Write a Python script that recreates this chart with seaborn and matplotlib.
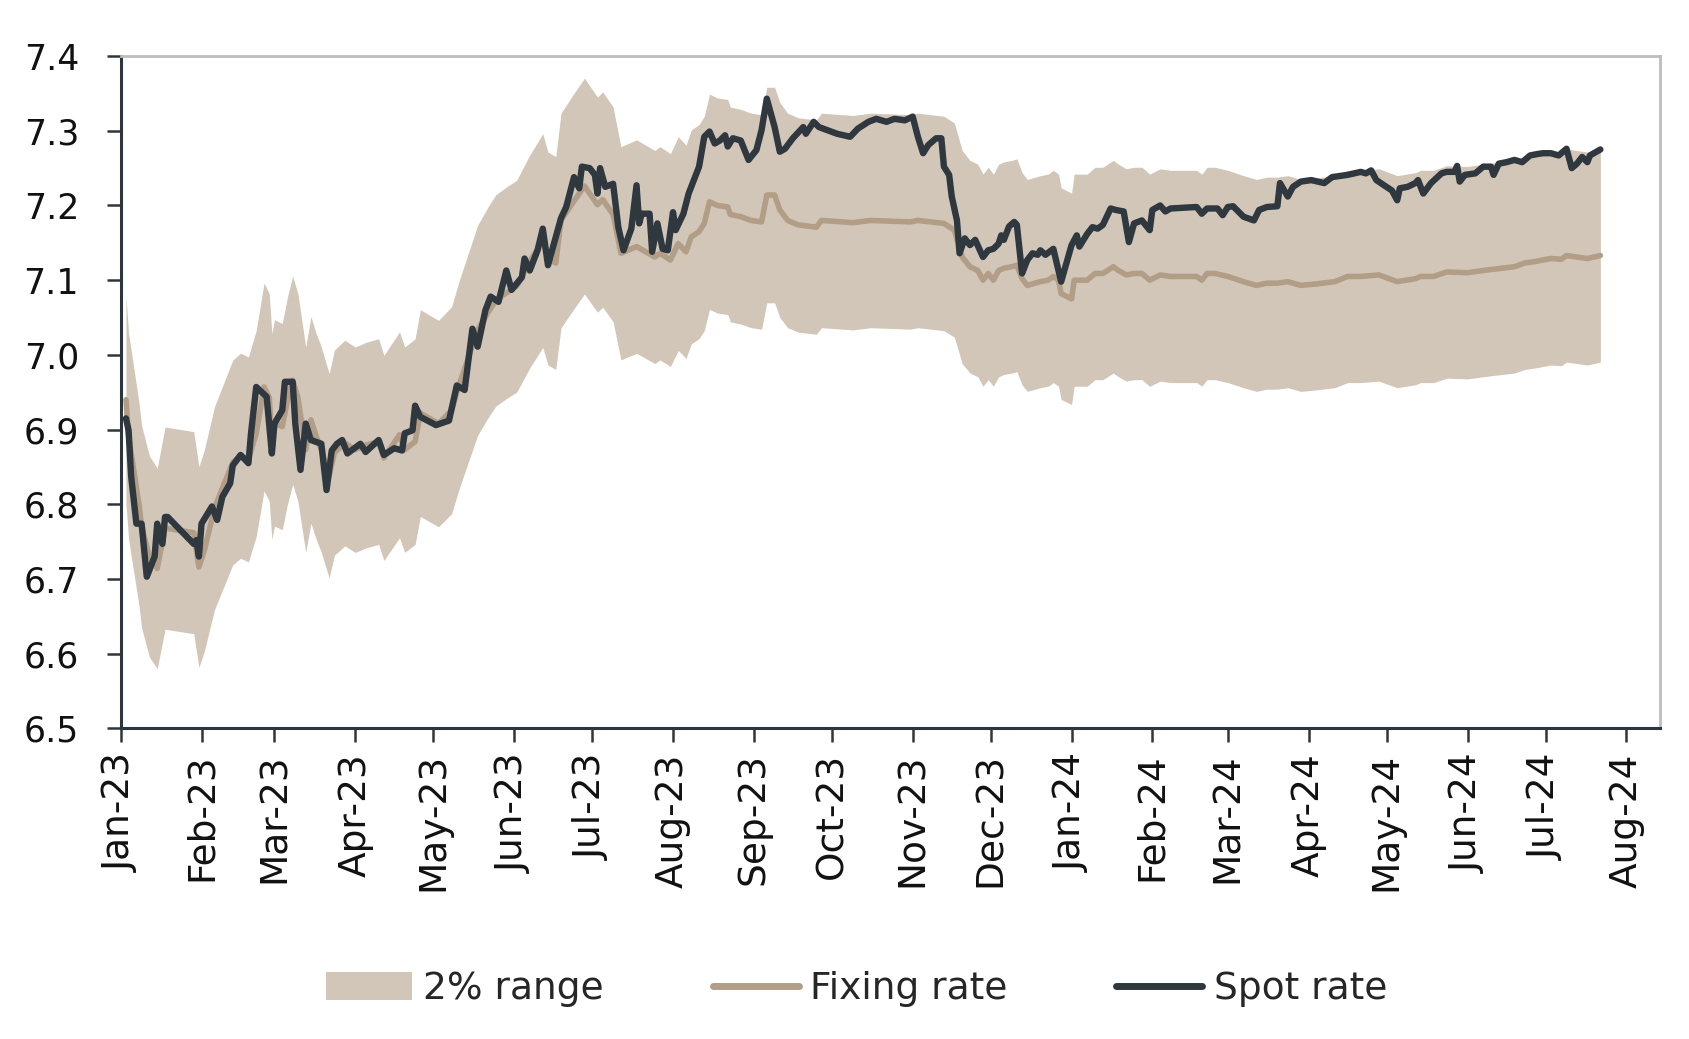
"""USD/CNY spot rate vs PBOC fixing with the 2% trading band."""

import matplotlib

matplotlib.use("Agg")
import matplotlib.dates as mdates
import matplotlib.pyplot as plt
import pandas as pd
import seaborn as sns
from matplotlib.lines import Line2D
from matplotlib.patches import Patch

# Days counted from 1 Jan 2023
spot_day = [
    2, 3, 4, 6, 8, 10, 13, 14, 16, 17, 18, 28, 29, 30, 31, 35, 37, 39, 42, 43,
    46, 49, 50, 52, 56, 58, 59, 62, 63, 66, 67, 69, 71, 73, 77, 79, 81, 83, 85, 87,
    92, 94, 99, 101, 105, 108, 109, 112, 113, 115, 121, 126, 129, 132, 135, 137, 140, 142, 145, 148,
    150, 154, 155, 157, 160, 162, 164, 166, 169, 171, 174, 176, 177, 180, 182, 183, 184, 186, 189, 191,
    193, 196, 198, 199, 200, 203, 204, 206, 208, 210, 212, 213, 216, 218, 220, 222, 224, 226, 228, 230,
    232, 233, 235, 238, 241, 244, 246, 248, 251, 253, 255, 258, 262, 263, 266, 268, 275, 280, 283, 287,
    290, 294, 297, 301, 304, 306, 308, 310, 313, 315, 316, 318, 319, 321, 322, 324, 326, 328, 331, 333,
    335, 337, 338, 339, 341, 343, 344, 346, 348, 350, 352, 353, 355, 358, 361, 365, 367, 368, 371, 373,
    375, 377, 380, 382, 385, 387, 389, 392, 395, 396, 399, 401, 403, 413, 415, 417, 421, 423, 425, 427,
    431, 435, 437, 440, 444, 445, 448, 450, 453, 457, 462, 465, 471, 476, 478, 480, 482, 485, 488, 490,
    491, 494, 497, 498, 500, 503, 507, 509, 512, 513, 514, 516, 520, 523, 526, 527, 529, 532, 535, 538,
    541, 544, 546, 549, 552, 553, 555, 557, 559, 561, 563, 564, 568,
]
spot_rate = [
    6.915, 6.899, 6.837, 6.774, 6.774, 6.703, 6.730, 6.774, 6.747, 6.783, 6.783, 6.747, 6.752, 6.730, 6.774, 6.797, 6.779, 6.810, 6.828, 6.852,
    6.866, 6.855, 6.895, 6.957, 6.944, 6.868, 6.908, 6.926, 6.964, 6.964, 6.908, 6.846, 6.908, 6.886, 6.881, 6.819, 6.872, 6.881, 6.886, 6.868,
    6.881, 6.870, 6.886, 6.866, 6.875, 6.872, 6.895, 6.899, 6.932, 6.917, 6.906, 6.912, 6.959, 6.953, 7.035, 7.011, 7.060, 7.078, 7.071, 7.113,
    7.087, 7.104, 7.129, 7.113, 7.140, 7.169, 7.120, 7.145, 7.183, 7.198, 7.238, 7.223, 7.252, 7.250, 7.241, 7.216, 7.250, 7.225, 7.229, 7.171,
    7.140, 7.169, 7.227, 7.176, 7.189, 7.189, 7.138, 7.176, 7.142, 7.140, 7.191, 7.167, 7.189, 7.216, 7.234, 7.252, 7.292, 7.299, 7.283, 7.287,
    7.294, 7.279, 7.290, 7.287, 7.261, 7.274, 7.301, 7.343, 7.305, 7.272, 7.276, 7.290, 7.305, 7.296, 7.312, 7.305, 7.296, 7.292, 7.303, 7.312,
    7.316, 7.312, 7.316, 7.314, 7.319, 7.292, 7.270, 7.281, 7.290, 7.290, 7.252, 7.241, 7.212, 7.180, 7.136, 7.156, 7.147, 7.154, 7.131, 7.140,
    7.142, 7.149, 7.160, 7.154, 7.172, 7.178, 7.174, 7.109, 7.127, 7.136, 7.134, 7.140, 7.134, 7.142, 7.098, 7.147, 7.160, 7.145, 7.162, 7.171,
    7.169, 7.174, 7.196, 7.194, 7.192, 7.151, 7.176, 7.180, 7.167, 7.194, 7.200, 7.192, 7.196, 7.198, 7.189, 7.196, 7.196, 7.187, 7.198, 7.199,
    7.185, 7.180, 7.194, 7.198, 7.199, 7.230, 7.212, 7.225, 7.232, 7.234, 7.230, 7.238, 7.241, 7.245, 7.243, 7.247, 7.234, 7.227, 7.220, 7.207,
    7.223, 7.225, 7.230, 7.234, 7.216, 7.230, 7.243, 7.245, 7.245, 7.253, 7.232, 7.241, 7.243, 7.252, 7.252, 7.241, 7.256, 7.258, 7.261, 7.258,
    7.267, 7.269, 7.270, 7.270, 7.267, 7.270, 7.276, 7.250, 7.256, 7.265, 7.258, 7.267, 7.275,
]

fixing_day = [
    2, 3, 7, 8, 11, 14, 17, 28, 30, 32, 36, 43, 46, 49, 52, 55, 57, 58, 59, 62,
    64, 66, 68, 71, 73, 75, 77, 80, 82, 86, 90, 94, 99, 101, 107, 109, 113, 115, 122, 127,
    130, 137, 141, 144, 148, 152, 157, 162, 164, 167, 169, 174, 178, 183, 185, 189, 192, 198, 205, 207,
    211, 214, 217, 219, 222, 224, 226, 229, 233, 234, 238, 242, 246, 248, 251, 253, 256, 260, 267, 269,
    281, 288, 303, 306, 311, 316, 320, 323, 326, 329, 331, 333, 335, 337, 339, 342, 344, 346, 348, 351,
    353, 356, 358, 360, 361, 365, 366, 371, 374, 377, 381, 383, 386, 389, 392, 395, 399, 403, 413, 415,
    417, 420, 425, 431, 436, 440, 444, 448, 453, 459, 466, 471, 476, 483, 490, 497, 499, 504, 509, 517,
    523, 530, 535, 539, 543, 549, 553, 555, 559, 563, 568,
]
fixing_rate = [
    6.940, 6.891, 6.800, 6.770, 6.730, 6.714, 6.768, 6.762, 6.716, 6.737, 6.795, 6.856, 6.865, 6.860, 6.895, 6.957, 6.943, 6.891, 6.909, 6.904,
    6.939, 6.966, 6.943, 6.873, 6.913, 6.891, 6.873, 6.838, 6.869, 6.882, 6.873, 6.879, 6.884, 6.862, 6.893, 6.873, 6.884, 6.922, 6.908, 6.926,
    6.961, 7.033, 7.057, 7.073, 7.083, 7.092, 7.125, 7.153, 7.129, 7.123, 7.180, 7.206, 7.226, 7.201, 7.208, 7.188, 7.136, 7.145, 7.131, 7.136,
    7.127, 7.149, 7.138, 7.158, 7.165, 7.176, 7.205, 7.200, 7.198, 7.188, 7.185, 7.180, 7.178, 7.214, 7.214, 7.194, 7.180, 7.174, 7.171, 7.180,
    7.177, 7.180, 7.178, 7.180, 7.178, 7.176, 7.167, 7.131, 7.118, 7.113, 7.100, 7.109, 7.100, 7.113, 7.116, 7.118, 7.120, 7.102, 7.093, 7.096,
    7.098, 7.100, 7.105, 7.100, 7.082, 7.075, 7.100, 7.100, 7.109, 7.109, 7.118, 7.113, 7.107, 7.109, 7.109, 7.100, 7.107, 7.105, 7.105, 7.100,
    7.109, 7.109, 7.105, 7.098, 7.093, 7.096, 7.096, 7.098, 7.093, 7.095, 7.098, 7.105, 7.105, 7.107, 7.098, 7.102, 7.105, 7.105, 7.111, 7.110,
    7.113, 7.116, 7.118, 7.123, 7.125, 7.129, 7.128, 7.133, 7.131, 7.129, 7.133,
]

band_width = 0.02  # trading band is +/- 2% around the fixing

colors = {
    "band": "#D2C6B9",
    "fixing": "#B29E87",
    "spot": "#2F373F",
}

# Build frames
start = pd.Timestamp("2023-01-01")
spot_df = pd.DataFrame(
    {"date": start + pd.to_timedelta(spot_day, unit="D"), "rate": spot_rate}
)
fixing_df = pd.DataFrame(
    {"date": start + pd.to_timedelta(fixing_day, unit="D"), "rate": fixing_rate}
)
fixing_df["upper"] = fixing_df["rate"] * (1 + band_width)
fixing_df["lower"] = fixing_df["rate"] * (1 - band_width)

sns.set_style("white")
plt.rcParams["font.family"] = ["DejaVu Sans"]

fig = plt.figure(figsize=(16.89, 10.39), dpi=100)
ax = fig.add_axes([0.0715, 0.299, 0.9115, 0.647])

ax.fill_between(
    fixing_df["date"],
    fixing_df["lower"],
    fixing_df["upper"],
    color=colors["band"],
    linewidth=0,
    zorder=1,
)
sns.lineplot(
    data=fixing_df, x="date", y="rate", color=colors["fixing"], lw=4.0,
    ax=ax, zorder=2,
)
sns.lineplot(
    data=spot_df, x="date", y="rate", color=colors["spot"], lw=4.6,
    ax=ax, zorder=3,
)

# Axes
ax.set_xlim(pd.Timestamp("2023-01-01"), pd.Timestamp("2024-08-14"))
ax.set_ylim(6.5, 7.4)
ax.set_yticks([6.5, 6.6, 6.7, 6.8, 6.9, 7.0, 7.1, 7.2, 7.3, 7.4])
ax.yaxis.set_major_formatter(matplotlib.ticker.FormatStrFormatter("%.1f"))
ax.xaxis.set_major_locator(mdates.MonthLocator())
ax.xaxis.set_major_formatter(mdates.DateFormatter("%b-%y"))
ax.set_xlabel("")
ax.set_ylabel("")

for side in ["left", "bottom"]:
    ax.spines[side].set_color("#2E363D")
    ax.spines[side].set_linewidth(2.2)
for side in ["top", "right"]:
    ax.spines[side].set_color("#BDBDBD")
    ax.spines[side].set_linewidth(2.0)

ax.tick_params(
    axis="x", direction="out", length=10, width=1.8, color="#2E363D",
    labelsize=27, pad=8, rotation=90, bottom=True,
)
ax.tick_params(
    axis="y", direction="out", length=10, width=1.8, color="#2E363D",
    labelsize=25, pad=20, left=True,
)
for label in ax.get_xticklabels() + ax.get_yticklabels():
    label.set_color("#111111")

# Legend
handles = [
    Patch(facecolor=colors["band"], edgecolor="none", label="2% range"),
    Line2D([0], [0], color=colors["fixing"], linewidth=5, label="Fixing rate",
           solid_capstyle="round"),
    Line2D([0], [0], color=colors["spot"], linewidth=5, label="Spot rate",
           solid_capstyle="round"),
]
fig.legend(
    handles=handles,
    loc="center",
    bbox_to_anchor=(0.507, 0.048),
    ncol=3,
    frameon=False,
    fontsize=27,
    handlelength=2.3,
    handleheight=0.75,
    handletextpad=0.3,
    columnspacing=2.9,
)

fig.savefig("out.png", dpi=100)
plt.close(fig)
